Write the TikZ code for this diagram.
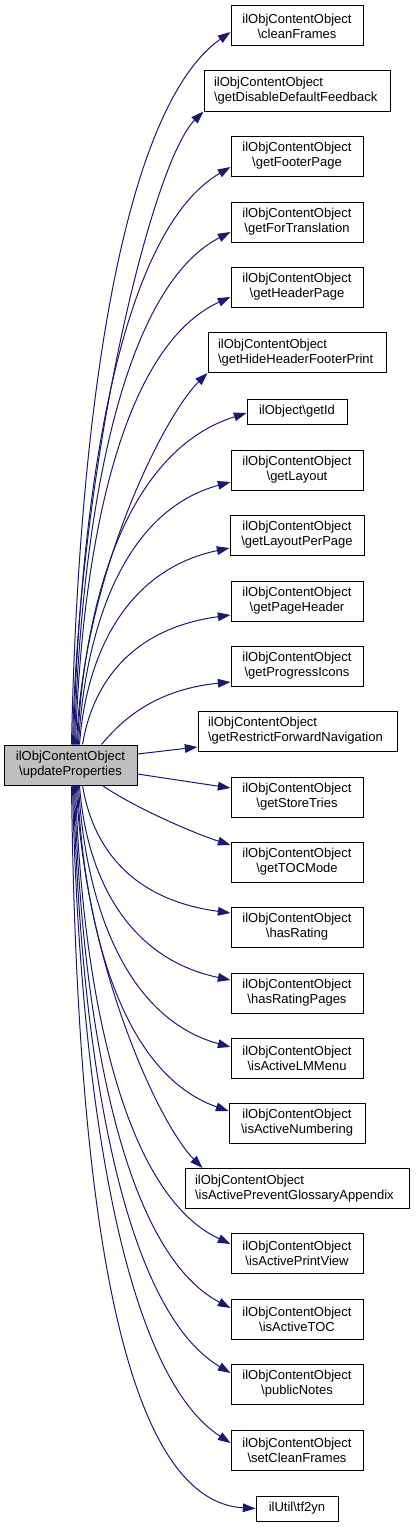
\documentclass[tikz,border=0pt]{standalone}
\usepackage{fontspec}
\setmainfont{Liberation Sans}
\usetikzlibrary{arrows.meta,calc}
\definecolor{edgeblue}{HTML}{191970}
\definecolor{srcgray}{HTML}{BFBFBF}
\tikzset{
  fn/.style={draw=black, line width=0.75pt, font=\fontsize{9.75pt}{11.25pt}\selectfont,
    inner sep=0pt, align=center, minimum width=99pt, minimum height=30pt},
  fnl/.style={fn, align=left, inner xsep=7.5pt},
  fnone/.style={fn, minimum height=18.75pt},
  srcbox/.style={fn, fill=srcgray, minimum width=99.75pt},
  edge/.style={draw=edgeblue, line width=0.75pt, -{Triangle[length=9.5pt,width=6.5pt]}, fill=none}
}
\newcommand{\bs}{\textbackslash}
\begin{document}
\begin{tikzpicture}[x=0.75pt,y=-0.75pt]
\useasboundingbox (0,0) rectangle (415,1527);
\node[srcbox] (src) at (70.5,765) {ilObjContentObject\\\bs updateProperties};

\node[fn] (n1) at (297,26) {ilObjContentObject\\\bs cleanFrames};
\node[fnl, text width=124.5pt, minimum width=139.5pt] (n2) at (297,91) {ilObjContentObject\\\bs getDisableDefaultFeedback};
\node[fn] (n3) at (297,156) {ilObjContentObject\\\bs getFooterPage};
\node[fn] (n4) at (297,222) {ilObjContentObject\\\bs getForTranslation};
\node[fn] (n5) at (297,287) {ilObjContentObject\\\bs getHeaderPage};
\node[fnl, text width=118.5pt, minimum width=133.5pt] (n6) at (297,352.5) {ilObjContentObject\\\bs getHideHeaderFooterPrint};
\node[fnone, minimum width=75pt] (n7) at (297,411.5) {ilObject\bs getId};
\node[fn] (n8) at (297,470) {ilObjContentObject\\\bs getLayout};
\node[fn, minimum width=100.5pt] (n9) at (297,535) {ilObjContentObject\\\bs getLayoutPerPage};
\node[fn] (n10) at (297,601) {ilObjContentObject\\\bs getPageHeader};
\node[fn] (n11) at (297,666) {ilObjContentObject\\\bs getProgressIcons};
\node[fnl, text width=134.25pt, minimum width=149.25pt] (n12) at (297.5,731) {ilObjContentObject\\\bs getRestrictForwardNavigation};
\node[fn] (n13) at (297,797) {ilObjContentObject\\\bs getStoreTries};
\node[fn] (n14) at (297,862) {ilObjContentObject\\\bs getTOCMode};
\node[fn] (n15) at (297,927) {ilObjContentObject\\\bs hasRating};
\node[fn] (n16) at (297,993) {ilObjContentObject\\\bs hasRatingPages};
\node[fn] (n17) at (297,1058) {ilObjContentObject\\\bs isActiveLMMenu};
\node[fn, minimum width=102pt] (n18) at (297,1123) {ilObjContentObject\\\bs isActiveNumbering};
\node[fnl, text width=153pt, minimum width=168pt] (n19) at (297,1188.5) {ilObjContentObject\\\bs isActivePreventGlossaryAppendix};
\node[fn] (n20) at (297,1253) {ilObjContentObject\\\bs isActivePrintView};
\node[fn] (n21) at (297,1319) {ilObjContentObject\\\bs isActiveTOC};
\node[fn] (n22) at (297,1384) {ilObjContentObject\\\bs publicNotes};
\node[fn] (n23) at (297,1450) {ilObjContentObject\\\bs setCleanFrames};
\node[fnone, minimum width=61.5pt] (n24) at (297,1508.5) {ilUtil\bs tf2yn};

% upper edges
\draw[edge] ($(src.north west)+(68,0)$) .. controls (78,424) and (120,110) .. ($(n1.west)+(0,6)$);
\draw[edge] ($(src.north west)+(69,0)$) .. controls (79,460) and (153,161) .. (n2.south west);
\draw[edge] ($(src.north west)+(70,0)$) .. controls (80,485) and (121,231) .. ($(n3.west)+(0,11)$);
\draw[edge] ($(src.north west)+(71,0)$) .. controls (81,514) and (122,288) .. ($(n4.west)+(0,10)$);
\draw[edge] ($(src.north west)+(72,0)$) .. controls (82,543) and (122,346) .. ($(n5.west)+(0,10)$);
\draw[edge] ($(src.north west)+(73,0)$) .. controls (83,577) and (163,417) .. (n6.south west);
\draw[edge] ($(src.north west)+(74,0)$) .. controls (84,596) and (129,450) .. ($(n7.west)+(0,1.5)$);
\draw[edge] ($(src.north west)+(75,0)$) .. controls (85,627) and (124,511) .. ($(n8.west)+(0,12)$);
\draw[edge] ($(src.north west)+(76,0)$) .. controls (86,656) and (125,570) .. ($(n9.west)+(0,13)$);
\draw[edge] ($(src.north west)+(79,0)$) .. controls (92,687) and (128,629) .. ($(n10.west)+(0,14)$);
\draw[edge] ($(src.north west)+(98,0)$) .. controls (118,725) and (150,690) .. ($(n11.west)+(0,16)$);
\draw[edge] ($(src.east)+(0,-11)$) -- ($(n12.west)+(0,16)$);
\draw[edge] ($(src.east)+(0,9)$) -- ($(n13.west)+(0,-9)$);
% lower edges
\draw[edge] ($(src.south west)+(99,0)$) .. controls (130,805) and (190,832) .. ($(n14.west)+(0,-17)$);
\draw[edge] ($(src.south west)+(79,0)$) .. controls (92,843) and (127,899) .. ($(n15.west)+(0,-14)$);
\draw[edge] ($(src.south west)+(76,0)$) .. controls (86,873) and (125,958) .. ($(n16.west)+(0,-13)$);
\draw[edge] ($(src.south west)+(75,0)$) .. controls (85,903) and (125,1018) .. ($(n17.west)+(0,-11)$);
\draw[edge] ($(src.south west)+(74,0)$) .. controls (84,931) and (123,1074) .. ($(n18.west)+(0,-12)$);
\draw[edge] ($(src.south west)+(73,0)$) .. controls (83,957) and (157,1122) .. ($(n19.north west)+(18,0)$);
\draw[edge] ($(src.south west)+(72,0)$) .. controls (82,992) and (123,1194) .. ($(n20.west)+(0,-9)$);
\draw[edge] ($(src.south west)+(71,0)$) .. controls (81,1020) and (122,1251) .. ($(n21.west)+(0,-11)$);
\draw[edge] ($(src.south west)+(70,0)$) .. controls (80,1050) and (121,1308) .. ($(n22.west)+(0,-11)$);
\draw[edge] ($(src.south west)+(69,0)$) .. controls (79,1081) and (120,1371) .. ($(n23.west)+(0,-7)$);
\draw[edge] ($(src.south west)+(68,0)$) .. controls (76,1150) and (110,1500) .. (n24.west);
\end{tikzpicture}
\end{document}
